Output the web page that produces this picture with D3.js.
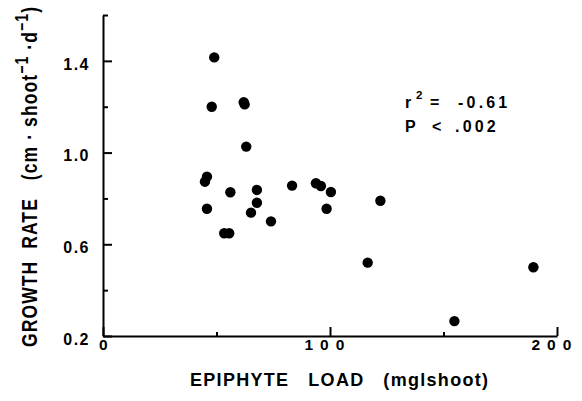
<!DOCTYPE html>
<html><head><meta charset="utf-8">
<script src="https://cdn.jsdelivr.net/npm/d3@7"></script>
<style>
html,body{margin:0;padding:0;background:#fff;}
svg{display:block;font-family:"Liberation Sans",Arial,Helvetica,sans-serif;}
</style></head>
<body>
<svg id="chart" width="582" height="401"></svg>
<script>
// Data
const epiphyteLoad = [49.0, 47.9, 62.0, 62.4, 63.1, 45.8, 44.9, 56.1, 67.8, 67.8, 45.8, 65.2, 74.0, 83.3, 93.8, 96.0, 100.4, 98.5, 53.4, 55.6, 122.2, 116.6, 189.6, 154.8];
const growthRate   = [1.415, 1.20, 1.22, 1.21, 1.026, 0.895, 0.873, 0.827, 0.837, 0.781, 0.755, 0.738, 0.70, 0.856, 0.866, 0.854, 0.828, 0.755, 0.648, 0.648, 0.79, 0.52, 0.50, 0.265];
const xMajorTicks = [0, 100, 200];
const xMinorTicks = [50, 150];
const yMajorTicks = [0.2, 0.6, 1.0, 1.4];
const yMinorTicks = [0.4, 0.8, 1.2, 1.6];
const xTitle = "EPIPHYTE   LOAD   (mglshoot)";
const statR = "-0.61";
const statP = ".002";

const svg = d3.select("#chart");
const x = d3.scaleLinear().domain([0, 200]).range([103, 557]);
const y = d3.scaleLinear().domain([0.2, 1.6]).range([336, 15]);

// Y axis
const gy = svg.append("g").attr("transform", `translate(${x(0)},0)`);
gy.call(d3.axisLeft(y).tickValues(yMajorTicks).tickSizeInner(-9).tickSizeOuter(0).tickPadding(13).tickFormat(d3.format(".1f")));
gy.append("g").call(d3.axisLeft(y).tickValues(yMinorTicks).tickSizeInner(-5).tickSizeOuter(0).tickFormat(""))
  .select(".domain").remove();
gy.selectAll("text").attr("dy", "0.52em").attr("font-size", 16).attr("font-weight", "bold")
  .attr("letter-spacing", 1.5).attr("fill", "#000").attr("font-family", "Liberation Sans, Arial, sans-serif");

// X axis
const gx = svg.append("g").attr("transform", `translate(0,${y(0.2)})`);
gx.call(d3.axisBottom(x).tickValues(xMajorTicks).tickSizeInner(-9).tickSizeOuter(0).tickPadding(3).tickFormat(d3.format("d")));
gx.append("g").call(d3.axisBottom(x).tickValues(xMinorTicks).tickSizeInner(-4).tickSizeOuter(0).tickFormat(""))
  .select(".domain").remove();
gx.selectAll("text").attr("font-size", 15.5).attr("font-weight", "bold")
  .attr("text-anchor", "start")
  .attr("letter-spacing", 7).attr("fill", "#000").attr("font-family", "Liberation Sans, Arial, sans-serif")
  .attr("x", d => d === 0 ? -4.5 : -26);

svg.selectAll(".domain").attr("stroke", "#000").attr("stroke-width", 2);
svg.selectAll(".tick line").attr("stroke", "#000").attr("stroke-width", 2);

// Points
svg.append("g").selectAll("circle")
  .data(epiphyteLoad.map((v, i) => [v, growthRate[i]]))
  .join("circle")
  .attr("cx", d => x(d[0]))
  .attr("cy", d => y(d[1]))
  .attr("r", 5.2)
  .attr("fill", "#000");

// X title
svg.append("text")
  .attr("x", 339).attr("y", 386)
  .attr("text-anchor", "middle")
  .attr("font-size", 18).attr("font-weight", "bold")
  .attr("textLength", 298).attr("lengthAdjust", "spacing")
  .style("white-space", "pre")
  .text(xTitle);

// Y title (rotated, glyphs stretched vertically)
const yt = svg.append("text")
  .attr("transform", "translate(37,177) rotate(-90) scale(1,1.25)")
  .attr("text-anchor", "middle")
  .attr("font-size", 17.5).attr("font-weight", "bold")
  .attr("textLength", 340).attr("lengthAdjust", "spacing")
  .style("white-space", "pre");
yt.append("tspan").text("GROWTH  RATE   (cm \u00b7 shoot");
yt.append("tspan").attr("font-size", 14).attr("dy", -7).text("\u22121");
yt.append("tspan").attr("dy", 7).text(" \u00b7d");
yt.append("tspan").attr("font-size", 14).attr("dy", -7).text("\u22121");
yt.append("tspan").attr("dy", 7).text(")");

// Statistics annotation
const ann = svg.append("g").attr("font-size", 16).attr("font-weight", "bold").attr("fill", "#000");
ann.append("text").attr("x", 405).attr("y", 108).text("r");
ann.append("text").attr("x", 416).attr("y", 99).attr("font-size", 11.5).text("2");
ann.append("text").attr("x", 430).attr("y", 108).text("=");
ann.append("text").attr("x", 458).attr("y", 108).attr("letter-spacing", 3.2).text(statR);
ann.append("text").attr("x", 405).attr("y", 132).text("P");
ann.append("text").attr("x", 432).attr("y", 132).text("<");
ann.append("text").attr("x", 455).attr("y", 132).attr("letter-spacing", 3.2).text(statP);
</script>
</body></html>
